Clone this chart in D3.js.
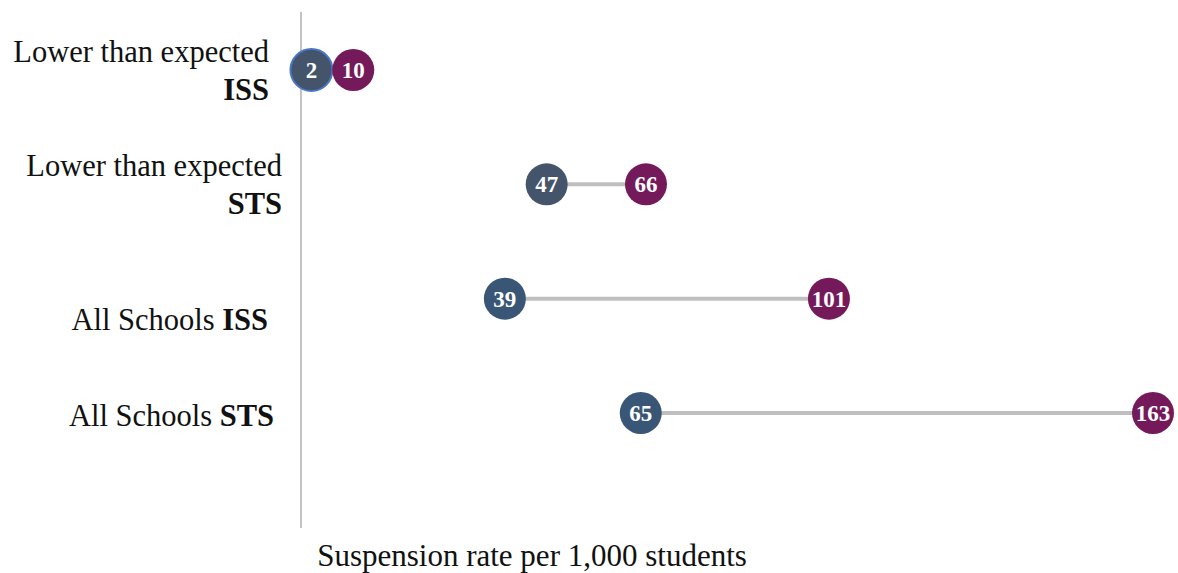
<!DOCTYPE html>
<html lang="en">
<head>
    <meta charset="UTF-8">
    <title>Suspension rate dumbbell</title>
    <script src="https://d3js.org/d3.v7.min.js"></script>
    <style>
        body {
            margin: 0;
            background: #fff;
            font-family: "Liberation Serif", "DejaVu Serif", serif;
        }
        .row-label {
            font-size: 30.5px;
            fill: #111;
        }
        .axis-title {
            font-size: 31px;
            fill: #111;
        }
        .dot-label {
            font-size: 23px;
            font-weight: bold;
            fill: #fff;
        }
    </style>
</head>
<body>
    <svg width="1178" height="573"></svg>
    <script>
        // chart data
        const categories = ["Lower than expected ISS", "Lower than expected STS", "All Schools ISS", "All Schools STS"];
        const labelPlain = ["Lower than expected", "Lower than expected", "All Schools ", "All Schools "];
        const labelBold = ["ISS", "STS", "ISS", "STS"];
        const blueValues = [2, 47, 39, 65];
        const purpleValues = [10, 66, 101, 163];
        const axisTitle = "Suspension rate per 1,000 students";

        const svg = d3.select("svg");

        const x = d3.scaleLinear().domain([0, 163]).range([301, 1153]);
        const y = d3.scalePoint().domain(categories).range([70, 413]);

        const blueFill = ["#44546a", "#44546a", "#3a5676", "#3a5676"];
        const purple = "#741a5a";
        const r = 21;

        // vertical axis line at zero
        svg.append("line")
            .attr("x1", x(0)).attr("x2", x(0))
            .attr("y1", 12).attr("y2", 528)
            .attr("stroke", "#c3c3c3")
            .attr("stroke-width", 2);

        const rows = svg.selectAll(".row")
            .data(categories)
            .join("g")
            .attr("class", "row");

        rows.append("line")
            .attr("x1", (d, i) => x(blueValues[i]))
            .attr("x2", (d, i) => x(purpleValues[i]))
            .attr("y1", d => y(d))
            .attr("y2", d => y(d))
            .attr("stroke", "#bfbfbf")
            .attr("stroke-width", 4);

        rows.append("circle")
            .attr("cx", (d, i) => x(blueValues[i]))
            .attr("cy", d => y(d))
            .attr("r", r)
            .attr("fill", (d, i) => blueFill[i])
            .attr("stroke", (d, i) => i === 0 ? "#4a78c8" : "none")
            .attr("stroke-width", 2);

        rows.append("circle")
            .attr("cx", (d, i) => x(purpleValues[i]))
            .attr("cy", d => y(d))
            .attr("r", r)
            .attr("fill", purple);

        rows.append("text")
            .attr("class", "dot-label")
            .attr("x", (d, i) => x(blueValues[i]))
            .attr("y", d => y(d) + 8)
            .attr("text-anchor", "middle")
            .text((d, i) => blueValues[i]);

        rows.append("text")
            .attr("class", "dot-label")
            .attr("x", (d, i) => x(purpleValues[i]))
            .attr("y", d => y(d) + 8)
            .attr("text-anchor", "middle")
            .text((d, i) => purpleValues[i]);

        // category labels: two lines for first two rows, one line for others
        const labelRight = [269, 282, 268, 274];
        const labelOffset = [0, 0, 31, 13];
        rows.each(function (d, i) {
            const g = d3.select(this);
            const cy = y(d);
            if (i < 2) {
                g.append("text")
                    .attr("class", "row-label")
                    .attr("x", labelRight[i])
                    .attr("y", cy - 8)
                    .attr("text-anchor", "end")
                    .text(labelPlain[i]);
                g.append("text")
                    .attr("class", "row-label")
                    .attr("x", labelRight[i])
                    .attr("y", cy + 30)
                    .attr("text-anchor", "end")
                    .attr("font-weight", "bold")
                    .text(labelBold[i]);
            } else {
                const t = g.append("text")
                    .attr("class", "row-label")
                    .attr("x", labelRight[i])
                    .attr("y", cy + labelOffset[i])
                    .attr("text-anchor", "end");
                t.append("tspan").text(labelPlain[i]);
                t.append("tspan").attr("font-weight", "bold").text(labelBold[i]);
            }
        });

        svg.append("text")
            .attr("class", "axis-title")
            .attr("x", 532)
            .attr("y", 566)
            .attr("text-anchor", "middle")
            .text(axisTitle);
    </script>
</body>
</html>
